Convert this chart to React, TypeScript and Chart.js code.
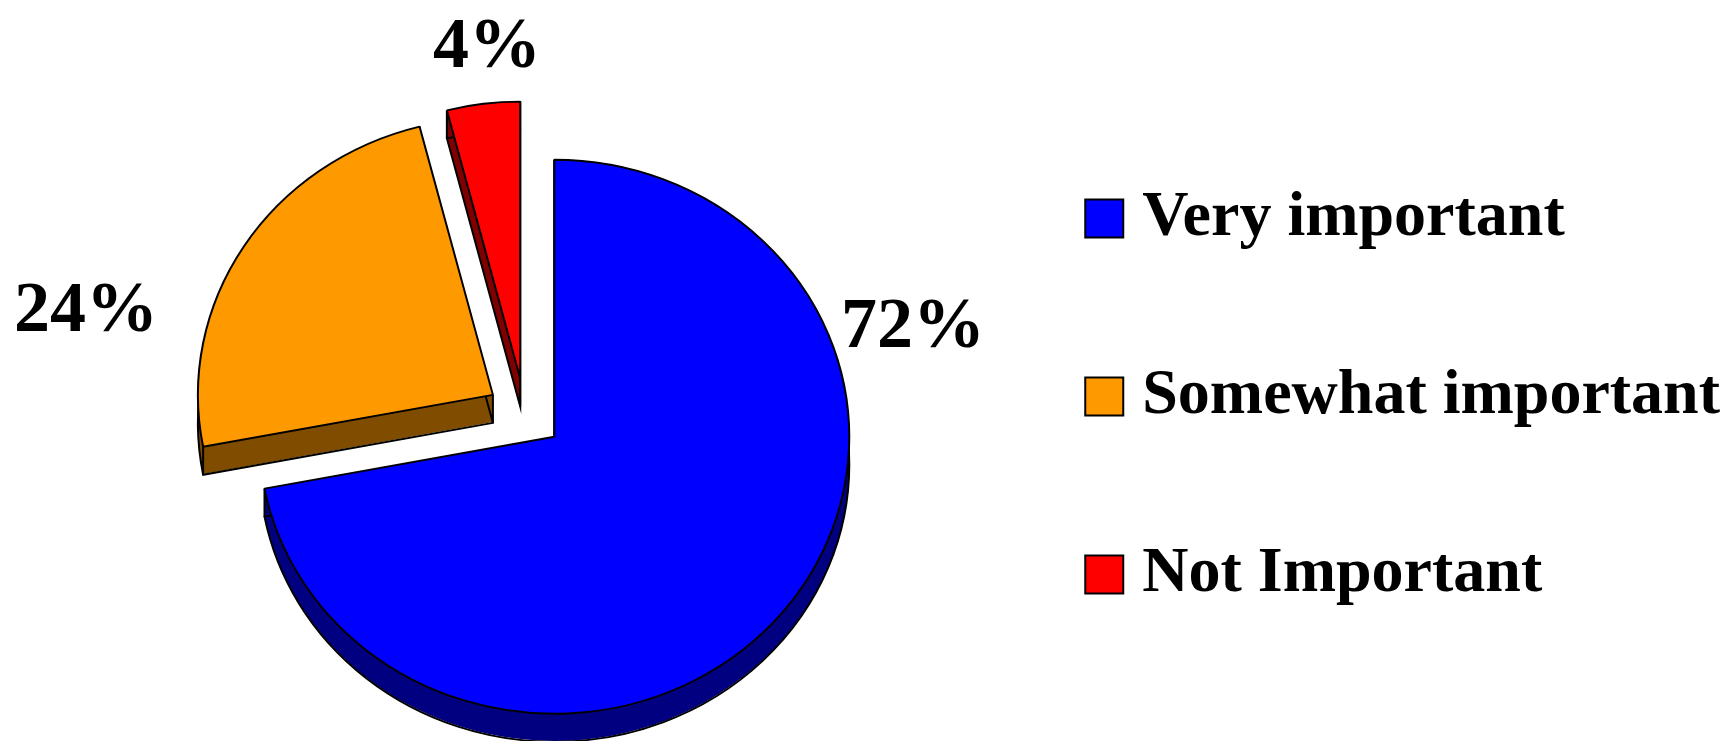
import React, { useEffect, useRef } from "react";
import { Chart, registerables } from "chart.js";

Chart.register(...registerables);

const categories = ["Very important", "Somewhat important", "Not Important"];
const shares = [72, 24, 4];
const faceColors = ["#0000FF", "#FF9900", "#FF0000"];
const sideColors = ["#000080", "#804D00", "#800000"];
const labelCenters = [
  [913, 328],
  [86, 312],
  [487, 48],
];

const PIE_CENTER = { x: 525, y: 414 };
const SQUASH = 0.939;
const DEPTH = 28;
const EXPLODE = 38;
const SERIF = '"Liberation Serif", "Times New Roman", serif';

const pie3d = {
  id: "pie3d",
  beforeDatasetsDraw(chart: any) {
    const ctx = chart.ctx;
    const meta = chart.getDatasetMeta(0);
    const arcs = meta.data;
    const radius = meta.controller.outerRadius;
    ctx.save();
    ctx.translate(PIE_CENTER.x, PIE_CENTER.y);
    ctx.scale(1, SQUASH);
    ctx.translate(-arcs[0].x, -arcs[0].y);
    const depth = DEPTH / SQUASH;
    [2, 1, 0].forEach((i) => {
      const a = arcs[i];
      // Chart.js resizes an exploded arc according to its sweep, and does nothing
      // at a quarter turn: this keeps the true radius and edge angles on every slice.
      a.circumference = Math.PI / 2;
      const mid = (a.startAngle + a.endAngle) / 2;
      const x = a.x + Math.cos(mid) * EXPLODE;
      const y = a.y + Math.sin(mid) * EXPLODE;
      const wedge = (dy: number) => {
        ctx.beginPath();
        ctx.moveTo(x, y + dy);
        ctx.arc(x, y + dy, radius, a.startAngle, a.endAngle);
        ctx.closePath();
      };
      ctx.fillStyle = sideColors[i];
      for (let k = 1; k <= depth; k++) {
        wedge(k);
        ctx.fill();
      }
      ctx.strokeStyle = "#000";
      ctx.lineWidth = 2;
      wedge(depth);
      ctx.stroke();
      ctx.beginPath();
      [a.startAngle, a.endAngle].forEach((t: number) => {
        const px = x + Math.cos(t) * radius;
        const py = y + Math.sin(t) * radius;
        ctx.moveTo(px, py);
        ctx.lineTo(px, py + depth);
      });
      ctx.moveTo(x, y);
      ctx.lineTo(x, y + depth);
      ctx.stroke();
    });
  },
  afterDatasetsDraw(chart: any) {
    const ctx = chart.ctx;
    ctx.restore();
    ctx.save();
    ctx.fillStyle = "#000";
    ctx.font = `bold 72px ${SERIF}`;
    ctx.textAlign = "center";
    ctx.textBaseline = "middle";
    shares.forEach((v, i) => {
      const [cx, cy] = labelCenters[i];
      ctx.fillText(`${v}%`, cx, cy);
    });
    ctx.restore();
  },
};

export default function App() {
  const ref = useRef<HTMLCanvasElement>(null);
  useEffect(() => {
    const chart = new Chart(ref.current as HTMLCanvasElement, {
      type: "pie",
      data: {
        labels: categories,
        datasets: [
          {
            data: shares,
            backgroundColor: faceColors,
            borderColor: "#000",
            borderWidth: 2,
            offset: EXPLODE * 4,
            clip: false,
          } as any,
        ],
      },
      plugins: [pie3d],
      options: {
        animation: false,
        responsive: false,
        radius: 295,
        layout: { padding: { top: 52, right: -4, bottom: 0, left: 0 } },
        plugins: {
          tooltip: { enabled: false },
          legend: {
            position: "right",
            labels: {
              usePointStyle: true,
              pointStyle: "rect",
              boxWidth: 12,
              boxHeight: 38,
              padding: 114,
              color: "#000",
              font: { family: SERIF, weight: "bold", size: 64 },
            },
          },
        },
      } as any,
    });
    return () => chart.destroy();
  }, []);
  return (
    <canvas
      ref={ref}
      width={1726}
      height={741}
      style={{ position: "absolute", left: 0, top: 0, display: "block" }}
    />
  );
}
